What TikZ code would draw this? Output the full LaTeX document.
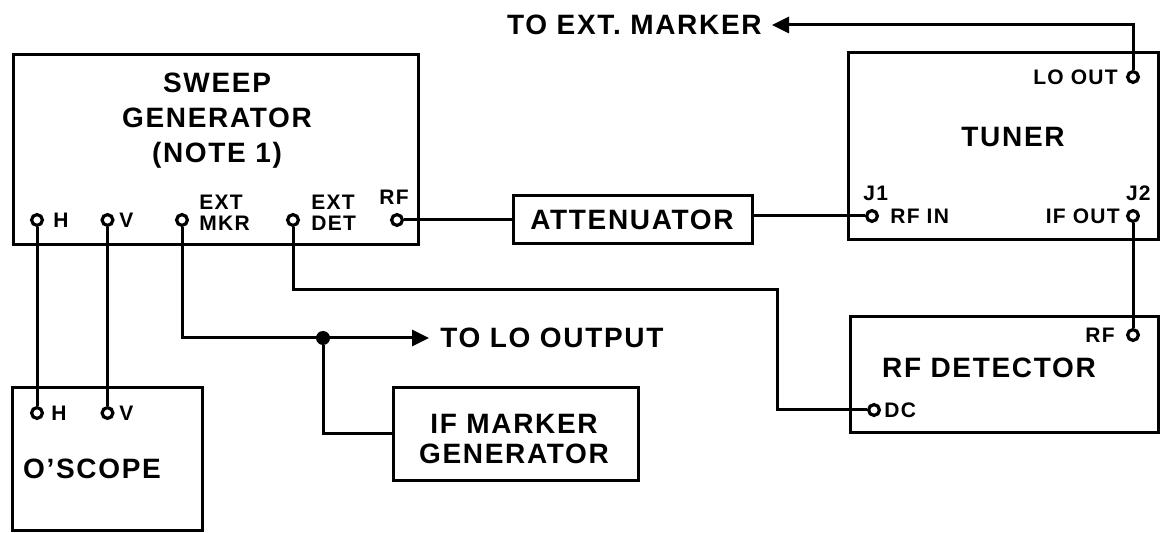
\documentclass[tikz,border=0pt]{standalone}
\usepackage{fontspec}
\setmainfont{Liberation Sans}[LetterSpace=6]
\usetikzlibrary{arrows.meta,fit}
\begin{document}
\begin{tikzpicture}[x=0.5pt,y=-0.5pt,
  box/.style={draw, line width=1.5pt, inner sep=0pt},
  port/.style={circle, draw, line width=1.6pt, minimum size=5.4pt, inner sep=0pt, fill=white},
  big/.style={font=\fontsize{14}{16}\selectfont\bfseries, text height=10pt, text depth=0pt, inner sep=0pt},
  small/.style={font=\fontsize{10.5}{12}\selectfont\bfseries, text height=7.5pt, text depth=0pt, inner sep=0pt},
  wire/.style={line width=1.5pt},
  arr/.style={-{Triangle[length=8.5pt,width=8pt]}},
  jdot/.style={circle, fill, minimum size=7pt, inner sep=0pt}
]
\useasboundingbox (0,0) rectangle (1160,533);

% ---- boxes
\node[box, fit={(13,55) (418,245)}] (sweep) {};
\node[box, fit={(12,388) (202,530)}] (scope) {};
\node[box, fit={(393,388) (638,480)}] (ifm) {};
\node[box, fit={(513,196) (752,244)}] (att) {};
\node[box, fit={(848,53) (1158,240)}] (tuner) {};
\node[box, fit={(850,317) (1158,433)}] (rfdet) {};

% ---- box texts
\node[big] (t1) at (217,83) {SWEEP};
\node[big] (t2) at (217,118) {GENERATOR};
\node[big] (t3) at (217,153) {(NOTE 1)};
\node[big] (t4) at (92,468) {O'SCOPE};
\node[big] (t5) at (514,423) {IF MARKER};
\node[big] (t6) at (514,453) {GENERATOR};
\node[big] (t7) at (632,220) {ATTENUATOR};
\node[big] (t8) at (1013,137) {TUNER};
\node[big] (t9) at (989,368) {RF DETECTOR};
\node[big, anchor=west] (t10) at (440,338) {TO LO OUTPUT};
\node[big, anchor=east] (t11) at (762,25) {TO EXT. MARKER};

% ---- ports
\node[port] (sh) at (37,220) {};
\node[port] (sv) at (107.5,220) {};
\node[port] (smkr) at (182,220) {};
\node[port] (sdet) at (293,220) {};
\node[port] (srf) at (397,220) {};
\node[port] (oh) at (37,413) {};
\node[port] (ov) at (107.5,413) {};
\node[port] (lo) at (1133,77) {};
\node[port] (rfin) at (872,216) {};
\node[port] (ifo) at (1133,216) {};
\node[port] (drf) at (1133,335) {};
\node[port] (ddc) at (874,410) {};

% ---- port labels
\node[small, anchor=west] (l1) at (53,220) {H};
\node[small, anchor=west] (l2) at (119,220) {V};
\node[small, anchor=west] (l3) at (199,202) {EXT};
\node[small, anchor=west] (l4) at (199,223) {MKR};
\node[small, anchor=west] (l5) at (311,202) {EXT};
\node[small, anchor=west] (l6) at (311,223) {DET};
\node[small] (l7) at (394,197) {RF};
\node[small, anchor=west] (l8) at (51,413) {H};
\node[small, anchor=west] (l9) at (119,413) {V};
\node[small, anchor=east] (l10) at (1118,77) {LO OUT};
\node[small, anchor=west] (l11) at (863,193) {J1};
\node[small, anchor=west] (l12) at (890,216) {RF IN};
\node[small, anchor=east] (l13) at (1120,216) {IF OUT};
\node[small, anchor=east] (l14) at (1151,193) {J2};
\node[small, anchor=east] (l15) at (1115,335) {RF};
\node[small, anchor=west] (l16) at (884,410) {DC};

% ---- helper coordinates
\coordinate (jn) at (323,338);
\coordinate (lotip) at (429,338);
\coordinate (k1) at (777,290);
\coordinate (exttip) at (772,25);

% ---- connectors
\draw[wire] (sh) -- (oh);
\draw[wire] (sv) -- (ov);
\draw[wire, arr] (smkr) |- (lotip);
\node[jdot] (jd) at (jn) {};
\draw[wire] (jd) |- (ifm.west);
\draw[wire] (sdet) |- (k1) |- (ddc);
\draw[wire] (srf) -- (srf -| att.west);
\draw[wire] (att.east |- rfin) -- (rfin);
\draw[wire, arr] (lo) |- (exttip);
\draw[wire] (ifo) -- (drf);
\end{tikzpicture}
\end{document}
